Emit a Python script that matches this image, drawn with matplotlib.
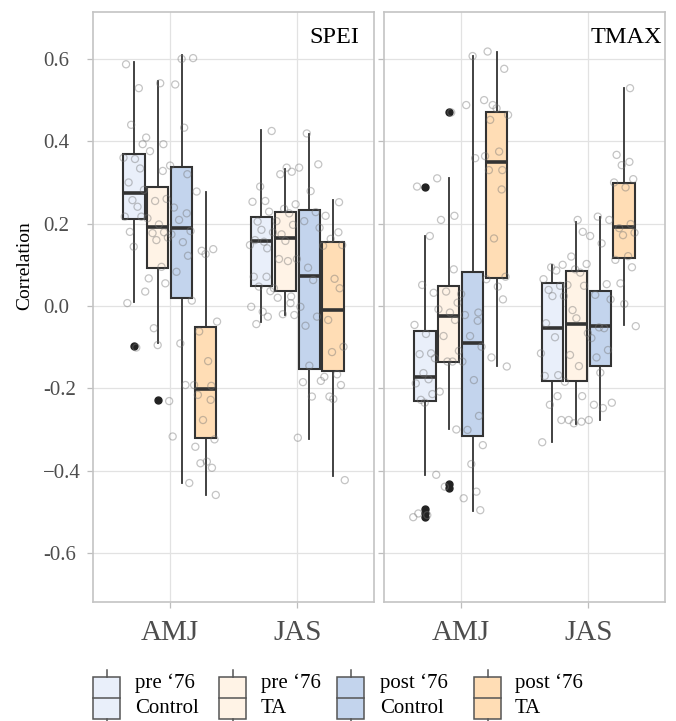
import numpy as np
import matplotlib
matplotlib.use("Agg")
import matplotlib.pyplot as plt
from matplotlib.patches import Rectangle
from matplotlib.lines import Line2D

plt.rcParams['font.family'] = ['Liberation Serif', 'DejaVu Serif']

panels = ["SPEI", "TMAX"]
seasons = ["AMJ", "JAS"]
group_labels = ["pre \u201876\nControl", "pre \u201876\nTA", "post \u201876\nControl", "post \u201876\nTA"]
group_colors = ["#E9EFFA", "#FFF3E6", "#C3D4ED", "#FFDDB5"]

y_ticks = [-0.6, -0.4, -0.2, 0.0, 0.2, 0.4, 0.6]
y_ticklabels = ["-0.6", "\u22120.4", "-0.2", "0.0", "0.2", "0.4", "0.6"]

# box statistics, order: AMJ (pre C, pre TA, post C, post TA), JAS (same)
spei_lo  = [0.010, -0.091, -0.430, -0.459, -0.039, -0.022, -0.323, -0.412]
spei_q1  = [0.211, 0.092, 0.019, -0.321, 0.049, 0.036, -0.154, -0.159]
spei_med = [0.275, 0.193, 0.190, -0.202, 0.159, 0.165, 0.073, -0.010]
spei_q3  = [0.369, 0.290, 0.337, -0.052, 0.215, 0.228, 0.233, 0.155]
spei_hi  = [0.592, 0.547, 0.610, 0.278, 0.427, 0.333, 0.417, 0.257]
spei_out = [[-0.097], [-0.229], [], [], [], [], [], []]

tmax_lo  = [-0.410, -0.299, -0.497, -0.147, -0.331, -0.287, -0.277, -0.046]
tmax_q1  = [-0.232, -0.137, -0.317, 0.067, -0.182, -0.182, -0.147, 0.116]
tmax_med = [-0.172, -0.024, -0.091, 0.349, -0.054, -0.044, -0.049, 0.191]
tmax_q3  = [-0.062, 0.049, 0.083, 0.470, 0.057, 0.085, 0.036, 0.299]
tmax_hi  = [0.170, 0.310, 0.607, 0.616, 0.100, 0.205, 0.215, 0.529]
tmax_out = [[0.290, -0.494, -0.504, -0.513], [0.470, -0.432, -0.442], [], [], [], [], [], []]

# individual correlations (jittered grey points)
spei_amj_pre_ctrl = [0.587, 0.529, 0.440, 0.393, 0.360, 0.357, 0.334, 0.300, 0.282, 0.257,
                     0.241, 0.217, 0.217, 0.180, 0.144, 0.035, 0.007, -0.101]
spei_amj_pre_ta = [0.541, 0.409, 0.393, 0.376, 0.328, 0.255, 0.260, 0.213, 0.198, 0.179,
                   0.177, 0.166, 0.160, 0.095, 0.067, 0.055, -0.054, -0.095, -0.231]
spei_amj_post_ctrl = [0.600, 0.602, 0.538, 0.433, 0.341, 0.320, 0.239, 0.225, 0.209, 0.182,
                      0.174, 0.155, 0.122, 0.083, 0.013, -0.091, -0.192, -0.317, -0.430]
spei_amj_post_ta = [0.278, 0.138, 0.134, 0.126, -0.038, -0.062, -0.134, -0.192, -0.194, -0.216,
                    -0.228, -0.277, -0.324, -0.342, -0.378, -0.393, -0.382, -0.459]
spei_jas_pre_ctrl = [0.425, 0.290, 0.255, 0.253, 0.229, 0.205, 0.185, 0.179, 0.160, 0.156,
                     0.148, 0.140, 0.071, 0.071, 0.047, 0.036, -0.002, -0.014, -0.026, -0.044]
spei_jas_pre_ta = [0.336, 0.326, 0.320, 0.247, 0.236, 0.225, 0.206, 0.197, 0.174, 0.158,
                   0.114, 0.114, 0.109, 0.043, 0.023, 0.020, 0.007, -0.020, -0.022]
spei_jas_post_ctrl = [0.419, 0.344, 0.336, 0.279, 0.228, 0.206, 0.190, 0.093, 0.063, -0.002,
                      -0.026, -0.048, -0.145, -0.182, -0.185, -0.220, -0.320]
spei_jas_post_ta = [0.252, 0.219, 0.179, 0.163, 0.148, 0.146, 0.066, 0.043, -0.034, -0.099,
                    -0.112, -0.166, -0.172, -0.192, -0.220, -0.226, -0.423]

tmax_amj_pre_ctrl = [0.290, 0.170, 0.051, 0.032, -0.046, -0.068, -0.115, -0.117, -0.127, -0.163,
                     -0.178, -0.188, -0.214, -0.228, -0.235, -0.410, -0.504, -0.508, -0.513]
tmax_amj_pre_ta = [0.470, 0.310, 0.219, 0.209, 0.089, 0.035, 0.008, -0.008, -0.016, -0.034,
                   -0.073, -0.109, -0.135, -0.135, -0.208, -0.300, -0.439]
tmax_amj_post_ctrl = [0.607, 0.500, 0.488, 0.359, 0.029, -0.016, -0.022, -0.036, -0.073, -0.099,
                      -0.135, -0.180, -0.267, -0.301, -0.338, -0.384, -0.451, -0.467, -0.496]
tmax_amj_post_ta = [0.618, 0.576, 0.488, 0.480, 0.464, 0.452, 0.375, 0.364, 0.330, 0.330,
                    0.283, 0.164, 0.071, 0.065, 0.047, 0.016, -0.125, -0.147]
tmax_jas_pre_ctrl = [0.100, 0.094, 0.086, 0.065, 0.049, 0.039, 0.024, 0.024, -0.042, -0.076,
                     -0.115, -0.168, -0.170, -0.219, -0.240, -0.277, -0.331]
tmax_jas_pre_ta = [0.209, 0.180, 0.120, 0.102, 0.089, 0.081, 0.051, 0.049, -0.010, -0.030,
                   -0.066, -0.119, -0.146, -0.184, -0.219, -0.277, -0.281, -0.285]
tmax_jas_post_ctrl = [0.217, 0.209, 0.170, 0.152, 0.053, 0.027, 0.016, -0.052, -0.054, -0.078,
                      -0.107, -0.125, -0.162, -0.235, -0.240, -0.248, -0.277]
tmax_jas_post_ta = [0.529, 0.367, 0.350, 0.342, 0.308, 0.300, 0.288, 0.199, 0.189, 0.178,
                    0.172, 0.121, 0.112, 0.094, 0.055, 0.005, -0.049]

panel_data = {
    "SPEI": dict(lo=spei_lo, q1=spei_q1, med=spei_med, q3=spei_q3, hi=spei_hi, out=spei_out,
                 pts=[spei_amj_pre_ctrl, spei_amj_pre_ta, spei_amj_post_ctrl, spei_amj_post_ta,
                      spei_jas_pre_ctrl, spei_jas_pre_ta, spei_jas_post_ctrl, spei_jas_post_ta]),
    "TMAX": dict(lo=tmax_lo, q1=tmax_q1, med=tmax_med, q3=tmax_q3, hi=tmax_hi, out=tmax_out,
                 pts=[tmax_amj_pre_ctrl, tmax_amj_pre_ta, tmax_amj_post_ctrl, tmax_amj_post_ta,
                      tmax_jas_pre_ctrl, tmax_jas_pre_ta, tmax_jas_post_ctrl, tmax_jas_post_ta]),
}

# fixed (non-random) horizontal jitter pattern for the points
JITTER = np.array([-0.06, 0.04, -0.02, 0.07, -0.08, 0.01, 0.05, -0.04, 0.08, -0.01,
                   0.03, -0.07, 0.06, -0.03, 0.00, 0.09, -0.05, 0.02, -0.09, 0.045])

W, H = 676, 721
fig = plt.figure(figsize=(W / 100, H / 100), dpi=100)

dodge = 0.1875
box_w = 0.169
edge = "#333333"
txt_grey = "#4D4D4D"

axes_px = [(93, 374), (384, 665)]
top_px, bot_px = 12, 602
strip_pos = {"SPEI": 0.947, "TMAX": 0.989}

for pi, name in enumerate(panels):
    l, r = axes_px[pi]
    ax = fig.add_axes([l / W, 1 - bot_px / H, (r - l) / W, (bot_px - top_px) / H])
    d = panel_data[name]
    for si in range(2):
        for gi in range(4):
            idx = si * 4 + gi
            pos = si + 1 + (gi - 1.5) * dodge
            stats = [dict(med=d["med"][idx], q1=d["q1"][idx], q3=d["q3"][idx],
                          whislo=d["lo"][idx], whishi=d["hi"][idx], fliers=d["out"][idx])]
            ax.bxp(stats, positions=[pos], widths=box_w, patch_artist=True, showcaps=False,
                   manage_ticks=False,
                   boxprops=dict(facecolor=group_colors[gi], edgecolor=edge, linewidth=1.5),
                   medianprops=dict(color=edge, linewidth=2.6, solid_capstyle='butt'),
                   whiskerprops=dict(color=edge, linewidth=1.3),
                   flierprops=dict(marker='o', markerfacecolor='#222222', markeredgecolor='#222222',
                                   markersize=5))
            pts = np.asarray(d["pts"][idx])
            jit = np.roll(JITTER, idx * 3)[:len(pts)]
            ax.scatter(pos + jit, pts, s=26, facecolors='none',
                       edgecolors=(0.45, 0.45, 0.45, 0.42), linewidths=0.9, zorder=5)

    ax.set_xlim(0.4, 2.6)
    ax.set_ylim(-0.719, 0.714)
    ax.set_axisbelow(True)
    ax.grid(True, color="#E2E2E2", linewidth=0.9)
    for sp in ax.spines.values():
        sp.set_color("#C4C4C4")
        sp.set_linewidth(1.2)
    ax.set_xticks([1, 2])
    ax.set_xticklabels(seasons)
    ax.set_yticks(y_ticks)
    ax.tick_params(axis='both', color="#BDBDBD", length=4, width=0.9, labelcolor=txt_grey)
    ax.tick_params(axis='x', labelsize=21, pad=9)
    if pi == 0:
        ax.set_yticklabels(y_ticklabels)
        ax.tick_params(axis='y', labelsize=15, pad=32)
        for lab in ax.get_yticklabels():
            lab.set_horizontalalignment('left')
    else:
        ax.set_yticklabels([])
    ax.text(strip_pos[name], 0.9475, name, transform=ax.transAxes, ha='right', va='baseline',
            fontsize=17.5, color='black')

fig.text(25 / W, 1 - 266 / H, "Correlation", rotation=90, ha='center', va='center',
         fontsize=14, color='black')

# legend drawn as box glyphs at the bottom
lax = fig.add_axes([0, 0, 1, 1])
lax.set_xlim(0, W)
lax.set_ylim(H, 0)
lax.axis('off')
glyph_x = [93, 219, 337, 474]
text_x = [135, 261, 380, 515]
gw = 27
for gi in range(4):
    x0 = glyph_x[gi]
    xc = x0 + gw / 2
    lax.add_line(Line2D([xc, xc], [670, 677], color="#555555", lw=1.1))
    lax.add_line(Line2D([xc, xc], [719, 726], color="#555555", lw=1.1))
    lax.add_patch(Rectangle((x0, 677), gw, 42, facecolor=group_colors[gi],
                            edgecolor="#555555", lw=1.1))
    lax.add_line(Line2D([x0, x0 + gw], [698, 698], color="#555555", lw=1.1))
    lax.text(text_x[gi], 696, group_labels[gi], ha='left', va='center', fontsize=15,
             linespacing=1.4, color='black')

fig.savefig("out.png", dpi=100)
